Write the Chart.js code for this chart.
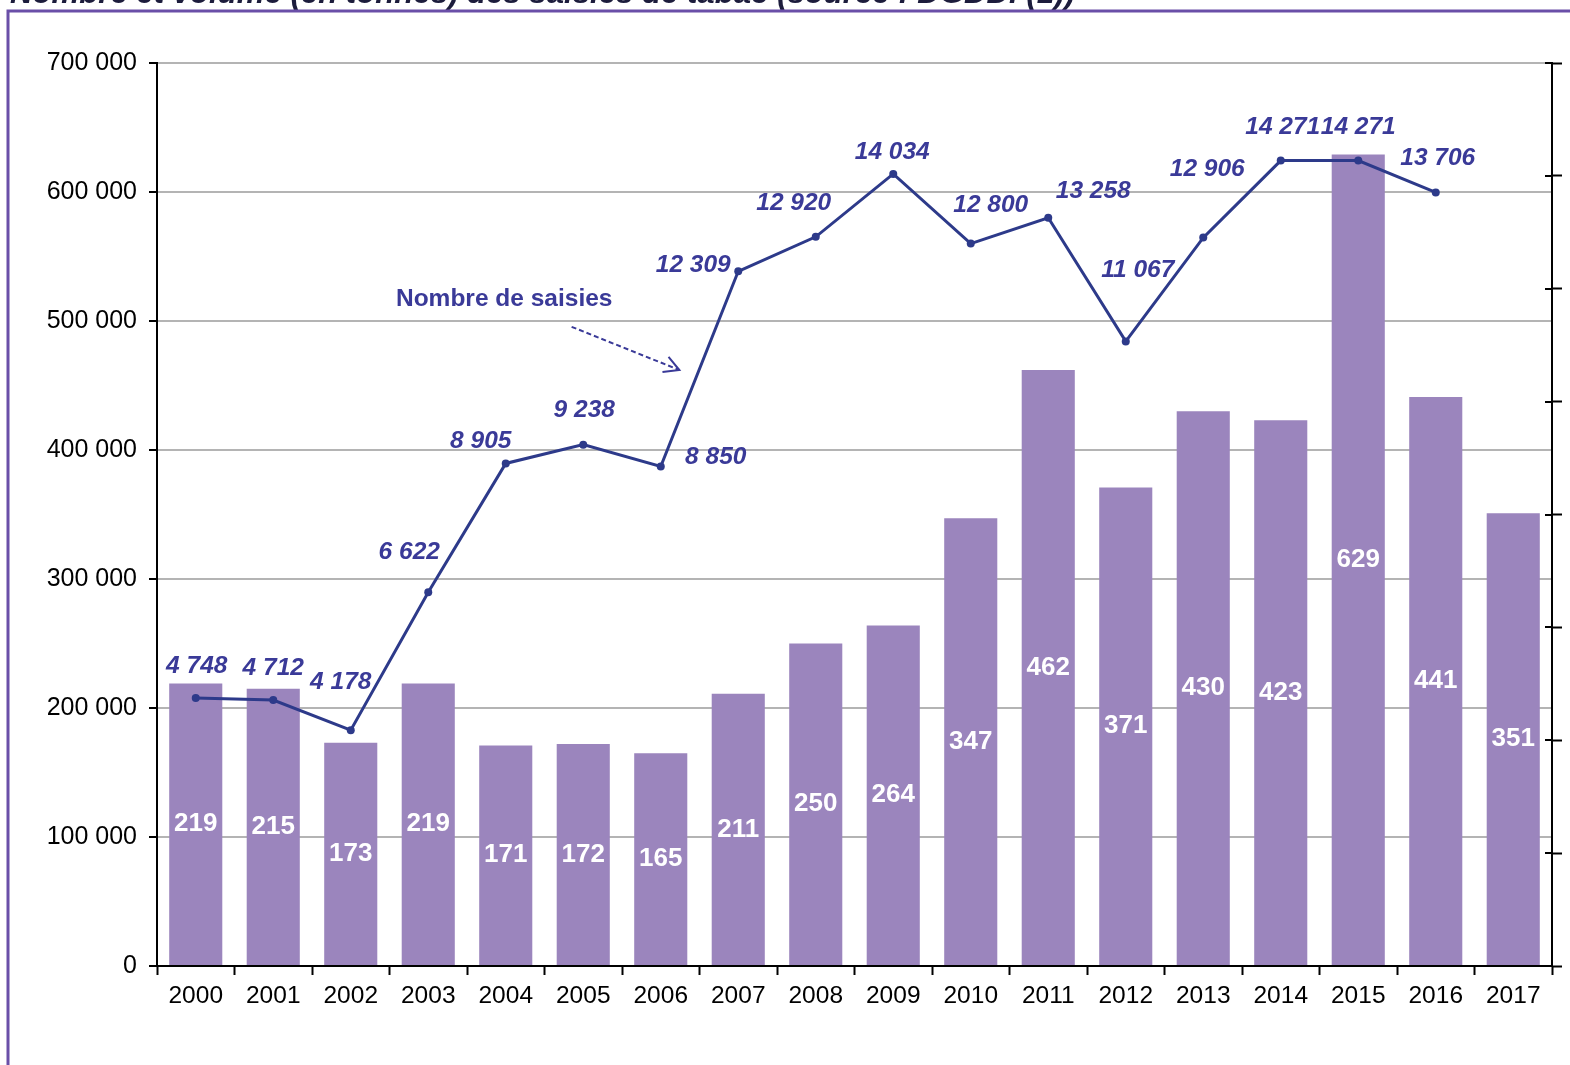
<!DOCTYPE html>
<html><head><meta charset="utf-8">
<script src="https://cdn.jsdelivr.net/npm/chart.js@4.4.1/dist/chart.umd.min.js"></script>
<style>html,body{margin:0;padding:0;background:#fff;overflow:hidden}#wrap{position:relative;width:1570px;height:1065px}</style>
</head><body><div id="wrap"><canvas id="c" width="1570" height="1065"></canvas></div>
<script>
// ---- data ----
const years = ['2000','2001','2002','2003','2004','2005','2006','2007','2008','2009','2010','2011','2012','2013','2014','2015','2016','2017'];
const volumeTonnes = [219,215,173,219,171,172,165,211,250,264,347,462,371,430,423,629,441,351];
const nombreSaisies = [4748,4712,4178,6622,8905,9238,8850,12309,12920,14034,12800,13258,11067,12906,14271,14271,13706,null];
const leftAxisMax = 700000, leftAxisStep = 100000;
const rightAxisMax = 16000, rightAxisStep = 2000;
const titleText = 'Nombre et volume (en tonnes) des saisies de tabac (source : DGDDI (1))';
const annotationText = 'Nombre de saisies';

// label placement (pixel offsets of each line label from its point)
const lineLabelOffsets = [[1,-32],[0,-32],[-10,-48],[-19,-40],[-25,-22],[1,-34],[55,-9],[-45,-6],[-22,-34],[-1,-22],[20,-38],[45,-27],[12,-71],[4,-68],[2,-33],[0,-33],[2,-34],[0,0]];

const volumeKg = volumeTonnes.map(v => v * 1000);
const fmt = n => String(n).replace(/\B(?=(\d{3})+(?!\d))/g, ' ');

const FONT = "'Liberation Sans', Arial, sans-serif";
Chart.defaults.font.family = FONT;

const labelsPlugin = {
  id: 'labels',
  beforeDraw(chart) {
    const ctx = chart.ctx;
    ctx.save();
    ctx.fillStyle = '#fff';
    ctx.fillRect(0, 0, chart.width, chart.height);
    // title (clipped at top)
    let size = 24;
    ctx.font = `italic bold ${size}px ${FONT}`;
    const w = ctx.measureText(titleText).width;
    size = size * 1065 / w;
    ctx.font = `italic bold ${size}px ${FONT}`;
    ctx.fillStyle = '#1c1c3c';
    ctx.textBaseline = 'alphabetic';
    ctx.textAlign = 'left';
    ctx.fillText(titleText, 10, 3);
    // frame
    ctx.strokeStyle = '#6a4fa8';
    ctx.lineWidth = 3;
    ctx.beginPath();
    ctx.moveTo(8, chart.height + 5);
    ctx.lineTo(8, 11);
    ctx.lineTo(chart.width + 5, 11);
    ctx.stroke();
    ctx.restore();
  },
  afterDraw(chart) {
    const ctx = chart.ctx;
    const y1 = chart.scales.y1;
    const area = chart.chartArea;
    ctx.save();
    // inner ticks of right axis
    ctx.strokeStyle = '#000';
    ctx.lineWidth = 2;
    y1.ticks.forEach(t => {
      const py = Math.round(y1.getPixelForValue(t.value));
      ctx.beginPath();
      ctx.moveTo(area.right - 7, py);
      ctx.lineTo(area.right, py);
      ctx.stroke();
    });
    // bar labels
    const barMeta = chart.getDatasetMeta(0);
    ctx.fillStyle = '#fff';
    ctx.font = `bold 26px ${FONT}`;
    ctx.textAlign = 'center';
    ctx.textBaseline = 'middle';
    barMeta.data.forEach((el, i) => {
      ctx.fillText(fmt(volumeTonnes[i]), el.x, (el.y + el.base) / 2);
    });
    // line labels
    const lineMeta = chart.getDatasetMeta(1);
    ctx.fillStyle = '#3a3a98';
    ctx.font = `italic bold 24.5px ${FONT}`;
    lineMeta.data.forEach((el, i) => {
      const v = nombreSaisies[i];
      if (v == null) return;
      const o = lineLabelOffsets[i];
      ctx.fillText(fmt(v), el.x + o[0], el.y + o[1]);
    });
    // annotation
    const x = chart.scales.x, y = chart.scales.y;
    const cw = (area.right - area.left) / years.length;
    const px = f => x.getPixelForValue(0) + f * cw;
    ctx.font = `bold 24.5px ${FONT}`;
    ctx.fillText(annotationText, px(3.98), y.getPixelForValue(517000));
    const ax0 = px(4.85), ay0 = y.getPixelForValue(495500);
    const ax1 = px(6.24), ay1 = y.getPixelForValue(462000);
    ctx.strokeStyle = '#3a3a98';
    ctx.lineWidth = 2;
    ctx.setLineDash([5, 3]);
    ctx.beginPath();
    ctx.moveTo(ax0, ay0); ctx.lineTo(ax1, ay1); ctx.stroke();
    ctx.setLineDash([]);
    const ang = Math.atan2(ay1 - ay0, ax1 - ax0);
    const L = 17;
    ctx.beginPath();
    ctx.moveTo(ax1 - L * Math.cos(ang - 0.5), ay1 - L * Math.sin(ang - 0.5));
    ctx.lineTo(ax1, ay1);
    ctx.lineTo(ax1 - L * Math.cos(ang + 0.5), ay1 - L * Math.sin(ang + 0.5));
    ctx.stroke();
    ctx.restore();
  }
};

new Chart(document.getElementById('c'), {
  data: {
    labels: years,
    datasets: [
      { type: 'bar', data: volumeKg, yAxisID: 'y', backgroundColor: '#9b85bd', barPercentage: 0.685, categoryPercentage: 1.0, order: 2 },
      { type: 'line', data: nombreSaisies, yAxisID: 'y1', borderColor: '#2d3a8a', backgroundColor: '#2d3a8a', borderWidth: 3, pointRadius: 4, pointBackgroundColor: '#2d3a8a', pointBorderWidth: 0, tension: 0, spanGaps: false, order: 1 }
    ]
  },
  options: {
    responsive: false,
    devicePixelRatio: 1,
    animation: false,
    layout: { padding: { top: 63, left: 0, right: 0, bottom: 0 } },
    plugins: { legend: { display: false }, tooltip: { enabled: false } },
    scales: {
      x: {
        type: 'category',
        offset: true,
        grid: { offset: true, drawOnChartArea: false, tickLength: 9, tickColor: '#000', tickWidth: 2 },
        border: { color: '#000', width: 2 },
        ticks: { color: '#000', font: { size: 24.5 }, padding: 7, maxRotation: 0, autoSkip: false },
        afterFit(s) { s.height = 99; }
      },
      y: {
        position: 'left',
        min: 0, max: leftAxisMax,
        ticks: { stepSize: leftAxisStep, color: '#000', font: { size: 25 }, padding: 12, callback: v => fmt(v) },
        grid: { color: '#b4b4b4', lineWidth: 2, tickColor: '#000', tickLength: 8, tickWidth: 2 },
        border: { color: '#000', width: 2 },
        afterFit(s) { s.width = 157; }
      },
      y1: {
        position: 'right',
        min: 0, max: rightAxisMax,
        ticks: { stepSize: rightAxisStep, display: false },
        grid: { drawOnChartArea: false, tickColor: '#000', tickLength: 10, tickWidth: 2 },
        border: { color: '#000', width: 2 },
        afterFit(s) { s.width = 18; }
      }
    }
  },
  plugins: [labelsPlugin]
});
</script>
</body></html>
